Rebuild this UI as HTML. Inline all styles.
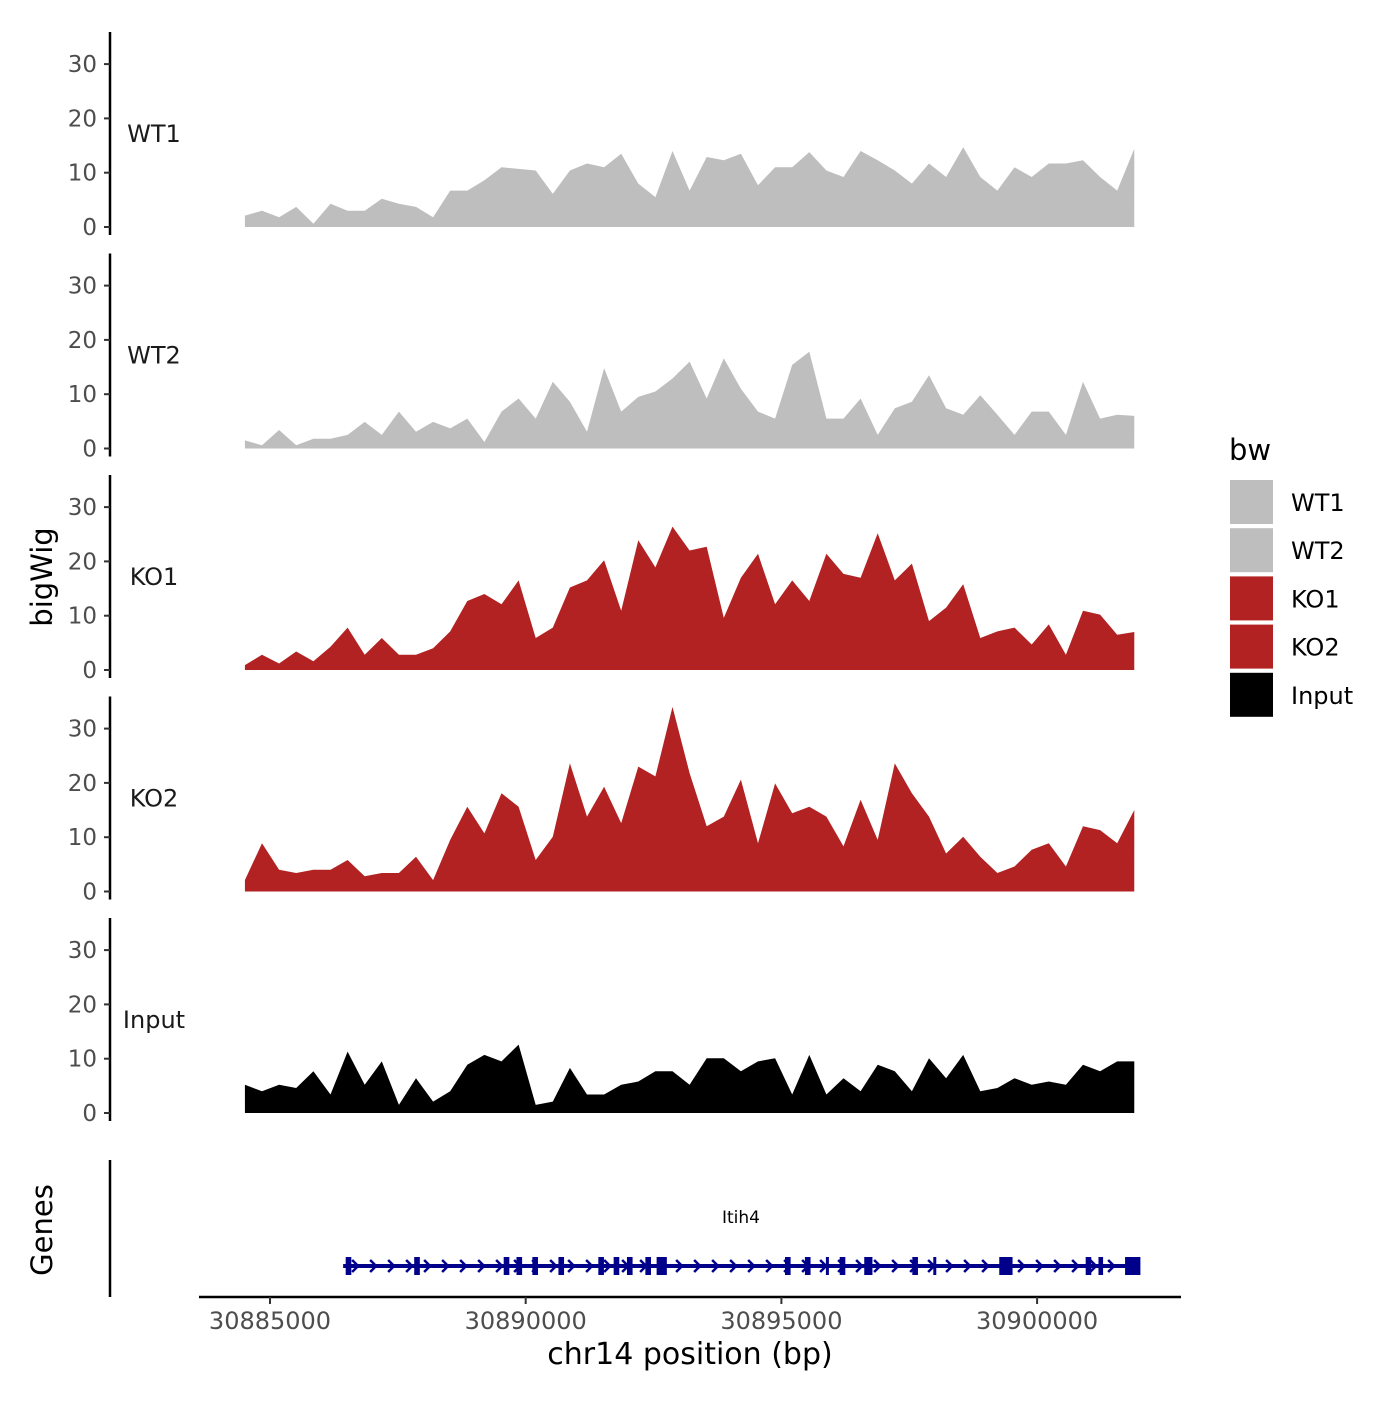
<!DOCTYPE html>
<html><head><meta charset="utf-8"><style>
html,body{margin:0;padding:0;background:#fff}
svg text{font-family:"DejaVu Sans","Liberation Sans",sans-serif}
</style></head><body>
<svg id="chart" width="1400" height="1400" viewBox="0 0 1400 1400" xmlns="http://www.w3.org/2000/svg">
<rect width="1400" height="1400" fill="#fff"/>
<g id="tracks"></g>
<g id="genes"></g>
<g id="xaxis"></g>
<g id="legend"></g>
<text x="52" y="577" font-size="29" text-anchor="middle" transform="rotate(-90 52 577)">bigWig</text>
<text x="52" y="1230" font-size="29" text-anchor="middle" transform="rotate(-90 52 1230)">Genes</text>
<text x="690" y="1364" font-size="30" text-anchor="middle">chr14 position (bp)</text>
</svg>
<script>
const trackNames = ["WT1","WT2","KO1","KO2","Input"];
const trackColors = ["#bebebe","#bebebe","#b22222","#b22222","#000000"];
const dataStart = 30884510;
const dataEnd = 30901900;
const wt1 = [2.1,3,1.8,3.7,0.6,4.3,3,3,5.2,4.3,3.7,1.8,6.7,6.7,8.6,11,10.7,10.4,6.1,10.4,11.7,11,13.5,8,5.5,14,6.7,12.9,12.3,13.5,7.7,11,11,13.8,10.4,9.2,14,12.3,10.4,8,11.7,9.2,14.7,9.2,6.7,11,9.2,11.7,11.7,12.3,9.2,6.7,14.4];
const wt2 = [1.5,0.6,3.4,0.6,1.8,1.8,2.5,4.9,2.5,6.8,3.1,4.9,3.7,5.5,1.2,6.8,9.2,5.5,12.3,8.6,3.1,14.8,6.8,9.5,10.5,12.9,16,9.2,16.6,11,6.8,5.5,15.4,17.8,5.5,5.5,9.2,2.5,7.4,8.6,13.5,7.4,6.2,9.8,6.2,2.5,6.8,6.8,2.5,12.3,5.5,6.2,6];
const ko1 = [0.9,2.8,1.2,3.4,1.6,4.3,7.8,2.8,5.9,2.8,2.8,4,7.1,12.7,14,12.1,16.5,5.9,7.8,15.2,16.5,20.2,10.9,23.9,18.9,26.4,22,22.7,9.6,17,21.4,12.1,16.5,12.7,21.4,17.7,17,25.2,16.5,19.6,9,11.5,15.8,5.9,7.1,7.8,4.7,8.4,2.8,10.9,10.2,6.5,7];
const ko2 = [2.1,8.9,4,3.4,4,4,5.8,2.8,3.4,3.4,6.4,2.1,9.5,15.6,10.7,18.1,15.6,5.8,10.1,23.6,13.8,19.3,12.6,23,21.2,34,21.8,12,13.8,20.6,8.9,19.9,14.4,15.6,13.8,8.3,16.9,9.5,23.6,18.1,13.8,7,10.1,6.4,3.4,4.6,7.7,8.9,4.6,12,11.3,8.9,15];
const inputCov = [5.2,4,5.2,4.6,7.7,3.4,11.3,5.2,9.5,1.5,6.4,2.1,4,8.9,10.7,9.5,12.6,1.5,2.1,8.3,3.4,3.4,5.2,5.8,7.7,7.7,5.2,10.1,10.1,7.7,9.5,10.1,3.4,10.7,3.4,6.4,4,8.9,7.7,4,10.1,6.4,10.7,4,4.6,6.4,5.2,5.8,5.2,8.9,7.7,9.5,9.5];
const yTicks = [0,10,20,30];
const xTicks = [30885000,30890000,30895000,30900000];
const geneStart = 30886430;
const geneEnd = 30901950;
const exonStarts = [30886480,30887820,30889570,30889820,30890130,30890640,30891420,30891720,30891980,30892340,30892560,30895070,30895460,30895870,30896140,30896620,30897560,30897970,30899260,30900950,30901200,30901720];
const exonWidths = [110,110,110,110,110,110,110,110,110,110,200,110,110,50,110,160,110,50,260,110,90,300];
const series = [wt1,wt2,ko1,ko2,inputCov];

const NS="http://www.w3.org/2000/svg";
function mk(tag, attrs, parent){const e=document.createElementNS(NS,tag);for(const k in attrs)e.setAttribute(k,attrs[k]);parent.appendChild(e);return e;}
function xScale(bp){return 270 + (bp-30885000)*255.7/5000;}
const pxPerUnit = 5.43;
function baseY(k){return 227 + 221.5*k;}
function yScale(k,v){return baseY(k) - v*pxPerUnit;}

const tracks=document.getElementById('tracks');
series.forEach((vals,k)=>{
  const g=mk('g',{},tracks);
  
  
  const b=baseY(k);
  const axis=mk('line',{x1:110,x2:110,y1:b-195,y2:b+8,stroke:'#000','stroke-width':2.5},g);
  
  
  yTicks.forEach(t=>{
    const y=yScale(k,t);
    const tl=mk('line',{x1:104,x2:110,y1:y,y2:y,stroke:'#333','stroke-width':2},g);
    
    
    const tx=mk('text',{x:97,y:y+8,'font-size':23,fill:'#4d4d4d','text-anchor':'end'},g);
    tx.textContent=t;
    
    
  });
  const lab=mk('text',{x:154,y:b-85,'font-size':24,fill:'#1a1a1a','text-anchor':'middle'},g);
  lab.textContent=trackNames[k];
  
  
  const n=vals.length;
  let d='M'+xScale(dataStart)+','+b;
  vals.forEach((v,i)=>{const bp=dataStart+(dataEnd-dataStart)*i/(n-1);d+=' L'+xScale(bp).toFixed(1)+','+yScale(k,v).toFixed(1);});
  d+=' L'+xScale(dataEnd)+','+b+' Z';
  const area=mk('path',{d:d,fill:trackColors[k]},g);
  
  
});

const gg=document.getElementById('genes');
const ga=mk('line',{x1:110,x2:110,y1:1160,y2:1297,stroke:'#000','stroke-width':2.5},gg);


const gy=1266;
const gl=mk('line',{x1:xScale(geneStart),x2:xScale(geneEnd),y1:gy,y2:gy,stroke:'#00008b','stroke-width':4},gg);


for(let x=xScale(geneStart)+12;x<xScale(geneEnd)-6;x+=18){
  const a=mk('path',{d:`M${x-3},${gy-6} L${x+3},${gy} L${x-3},${gy+6}`,fill:'none',stroke:'#00008b','stroke-width':2.5},gg);
  
  
}
exonStarts.forEach((s,i)=>{
  const x0=xScale(s),x1=xScale(s+exonWidths[i]);
  const r=mk('rect',{x:x0,y:gy-9,width:Math.max(3,x1-x0),height:18,fill:'#00008b'},gg);
  
  
});
const gt=mk('text',{x:741,y:1223,'font-size':17,'text-anchor':'middle'},gg);
gt.textContent='Itih4';



const xa=document.getElementById('xaxis');
const xl=mk('line',{x1:199,x2:1181,y1:1297,y2:1297,stroke:'#000','stroke-width':2.5},xa);


xTicks.forEach(t=>{
  const x=xScale(t);
  const tl=mk('line',{x1:x,x2:x,y1:1297,y2:1304,stroke:'#333','stroke-width':2},xa);
  
  
  const tx=mk('text',{x:x,y:1329,'font-size':24,fill:'#4d4d4d','text-anchor':'middle'},xa);
  tx.textContent=t;
  
  
});

const lg=document.getElementById('legend');
const lt=mk('text',{x:1229,y:460,'font-size':29},lg);
lt.textContent='bw';


trackNames.forEach((nm,i)=>{
  const y=480+48.2*i;
  const r=mk('rect',{x:1230,y:y,width:43,height:44,fill:trackColors[i]},lg);
  
  
  const t=mk('text',{x:1291,y:y+31,'font-size':24},lg);
  t.textContent=nm;
  
  
});
</script>
</body></html>
